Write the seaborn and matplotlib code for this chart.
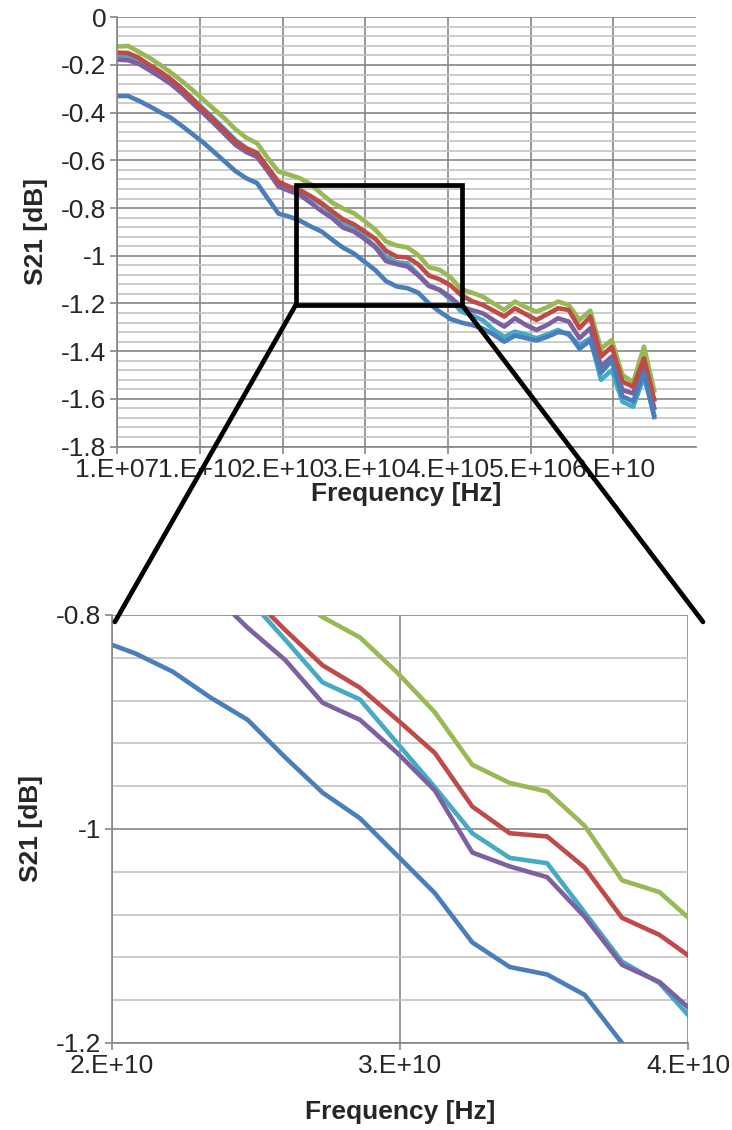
import numpy as np
import pandas as pd
import matplotlib
matplotlib.use("Agg")
import matplotlib.pyplot as plt
import seaborn as sns
from matplotlib.ticker import MultipleLocator, FixedLocator, FixedFormatter
from matplotlib.patches import Rectangle, ConnectionPatch

# frequency sweep (GHz), 51 points
freq_ghz = [0.01, 1.31, 2.61, 3.91, 5.21, 6.51, 7.81, 9.11, 10.41, 11.71,
            13.01, 14.31, 15.61, 16.91, 18.21, 19.51, 20.81, 22.11, 23.41, 24.71,
            26.01, 27.31, 28.61, 29.91, 31.21, 32.51, 33.81, 35.11, 36.41, 37.71,
            39.01, 40.31, 41.61, 42.91, 44.21, 45.51, 46.81, 48.11, 49.41, 50.71,
            52.01, 53.31, 54.61, 55.91, 57.21, 58.51, 59.81, 61.11, 62.41, 63.71,
            65.01]

s21_blue = [-0.33, -0.33, -0.35, -0.373, -0.398, -0.422, -0.455, -0.49, -0.525, -0.565,
            -0.605, -0.645, -0.675, -0.695, -0.76, -0.823, -0.836, -0.853, -0.877, -0.898,
            -0.933, -0.966, -0.990, -1.025, -1.060, -1.106, -1.129, -1.136, -1.155, -1.2,
            -1.235, -1.265, -1.28, -1.29, -1.305, -1.33, -1.36, -1.335, -1.345, -1.355,
            -1.34, -1.32, -1.325, -1.39, -1.355, -1.49, -1.44, -1.59, -1.61, -1.49, -1.685]
s21_red = [-0.148, -0.15, -0.17, -0.2, -0.228, -0.26, -0.3, -0.345, -0.388, -0.43,
           -0.475, -0.52, -0.55, -0.57, -0.63, -0.69, -0.71, -0.725, -0.75, -0.779,
           -0.814, -0.847, -0.868, -0.898, -0.929, -0.979, -1.004, -1.007, -1.036, -1.083,
           -1.099, -1.124, -1.165, -1.19, -1.206, -1.23, -1.255, -1.22, -1.245, -1.269,
           -1.245, -1.22, -1.227, -1.304, -1.255, -1.423, -1.381, -1.528, -1.549, -1.43, -1.612]
s21_green = [-0.123, -0.12, -0.145, -0.17, -0.2, -0.232, -0.267, -0.305, -0.345, -0.385,
             -0.425, -0.47, -0.505, -0.528, -0.59, -0.647, -0.66, -0.675, -0.70, -0.74,
             -0.777, -0.802, -0.821, -0.854, -0.891, -0.940, -0.957, -0.965, -0.997, -1.048,
             -1.059, -1.09, -1.14, -1.155, -1.171, -1.2, -1.227, -1.192, -1.216, -1.234,
             -1.216, -1.192, -1.206, -1.269, -1.23, -1.39, -1.353, -1.5, -1.53, -1.381, -1.575]
s21_purple = [-0.178, -0.18, -0.195, -0.222, -0.25, -0.28, -0.318, -0.36, -0.402, -0.445,
              -0.49, -0.535, -0.565, -0.585, -0.645, -0.71, -0.728, -0.745, -0.778, -0.812,
              -0.842, -0.882, -0.898, -0.929, -0.964, -1.022, -1.035, -1.045, -1.082, -1.127,
              -1.143, -1.174, -1.213, -1.228, -1.241, -1.27, -1.297, -1.262, -1.29, -1.311,
              -1.29, -1.262, -1.276, -1.346, -1.304, -1.465, -1.423, -1.563, -1.577, -1.465, -1.647]
s21_cyan = [-0.163, -0.165, -0.18, -0.205, -0.232, -0.262, -0.298, -0.34, -0.383, -0.426,
            -0.47, -0.515, -0.548, -0.568, -0.632, -0.698, -0.718, -0.735, -0.757, -0.784,
            -0.823, -0.863, -0.879, -0.920, -0.961, -1.004, -1.027, -1.032, -1.078, -1.124,
            -1.144, -1.183, -1.234, -1.25, -1.27, -1.31, -1.34, -1.318, -1.33, -1.346,
            -1.33, -1.311, -1.332, -1.374, -1.346, -1.52, -1.48, -1.612, -1.633, -1.507, -1.675]

colors = {"green": "#98B954", "cyan": "#46AAC5", "purple": "#7D60A0",
          "red": "#BE4B48", "blue": "#4A7EBB"}
draw_order = ["green", "cyan", "purple", "red", "blue"]

top_xticks = [1e7, 1e10, 2e10, 3e10, 4e10, 5e10, 6e10]
top_xlabels = ["1.E+07", "1.E+10", "2.E+10", "3.E+10", "4.E+10", "5.E+10", "6.E+10"]
top_yticks = [0, -0.2, -0.4, -0.6, -0.8, -1, -1.2, -1.4, -1.6, -1.8]
top_ylabels = ["0", "-0.2", "-0.4", "-0.6", "-0.8", "-1", "-1.2", "-1.4", "-1.6", "-1.8"]
zoom_xticks = [2e10, 3e10, 4e10]
zoom_xlabels = ["2.E+10", "3.E+10", "4.E+10"]
zoom_yticks = [-0.8, -1, -1.2]
zoom_ylabels = ["-0.8", "-1", "-1.2"]

df = pd.DataFrame({"freq": np.array(freq_ghz) * 1e9,
                   "blue": s21_blue, "red": s21_red, "green": s21_green,
                   "purple": s21_purple, "cyan": s21_cyan})
long = df.melt(id_vars="freq", var_name="trace", value_name="s21")

sns.set_style("white")
plt.rcParams["font.family"] = ["Liberation Sans", "DejaVu Sans"]
FS = 19
GRID_MAJ = "#868686"
GRID_MIN = "#C4C4C4"

fig = plt.figure(figsize=(7.32, 11.3), dpi=100)
ax1 = fig.add_axes([0.1602, 0.6048, 0.7906, 0.3799])
ax2 = fig.add_axes([0.1530, 0.0770, 0.7869, 0.3788])


def style(ax, xticks, xlabels, yticks, ylabels, xlim, ylim, xpad):
    sns.lineplot(data=long, x="freq", y="s21", hue="trace", hue_order=draw_order,
                 palette=colors, linewidth=3.3, legend=False, ax=ax, sort=False,
                 errorbar=None, solid_joinstyle="round", solid_capstyle="butt")
    ax.set_xlim(*xlim)
    ax.set_ylim(*ylim)
    ax.xaxis.set_major_locator(FixedLocator(xticks))
    ax.xaxis.set_major_formatter(FixedFormatter(xlabels))
    ax.yaxis.set_major_locator(FixedLocator(yticks))
    ax.yaxis.set_major_formatter(FixedFormatter(ylabels))
    ax.yaxis.set_minor_locator(MultipleLocator(0.04))
    ax.set_axisbelow(True)
    ax.grid(which="major", axis="both", color=GRID_MAJ, linewidth=1.2)
    ax.grid(which="minor", axis="y", color=GRID_MIN, linewidth=1.2)
    for side in ["top", "right"]:
        ax.spines[side].set_visible(False)
    for side in ["left", "bottom"]:
        ax.spines[side].set_color(GRID_MAJ)
        ax.spines[side].set_linewidth(1.2)
    ax.tick_params(which="major", direction="out", length=5, width=1.2,
                   color=GRID_MAJ, labelsize=FS, pad=3, bottom=True, left=True)
    ax.tick_params(which="minor", length=0)
    ax.set_xlabel("Frequency [Hz]", fontsize=FS, fontweight="bold", labelpad=xpad)
    ax.set_ylabel("S21 [dB]", fontsize=FS, fontweight="bold", labelpad=9)


style(ax1, top_xticks, top_xlabels, top_yticks, top_ylabels, (1e7, 7e10), (-1.8, 0), 0)
style(ax2, zoom_xticks, zoom_xlabels, zoom_yticks, zoom_ylabels, (2e10, 4e10), (-1.2, -0.8), 16)

# zoom box and connectors
box_x0, box_x1 = 2.16e10, 4.17e10
box_y0, box_y1 = -1.206, -0.703
ax1.add_patch(Rectangle((box_x0, box_y0), box_x1 - box_x0, box_y1 - box_y0,
                        fill=False, edgecolor="black", linewidth=3.4, zorder=10,
                        clip_on=False))
for xa, xb in [(box_x0, 2.01e10), (box_x1, 4.052e10)]:
    con = ConnectionPatch(xyA=(xa, box_y0), coordsA=ax1.transData,
                          xyB=(xb, -0.8065), coordsB=ax2.transData,
                          color="black", linewidth=3.4, zorder=10)
    fig.add_artist(con)

fig.savefig("out.png", dpi=100)
